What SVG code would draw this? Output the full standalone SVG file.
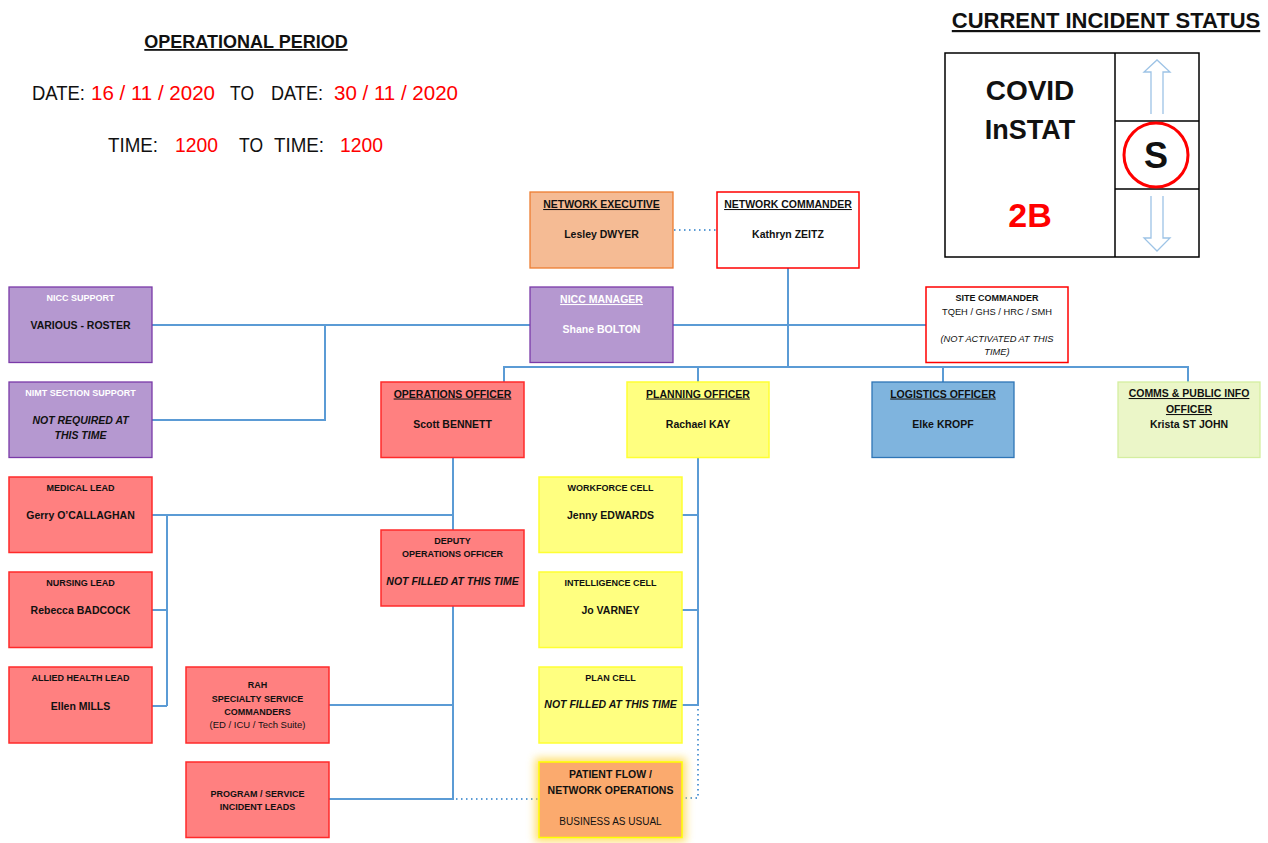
<svg xmlns="http://www.w3.org/2000/svg" width="1268" height="843" viewBox="0 0 1268 843">
<defs>
<style>
text{font-family:"Liberation Sans",Arial,sans-serif;fill:#111}
.c{text-anchor:middle}
.b{font-weight:bold}
.i{font-style:italic}
.u{text-decoration:underline}
.w{fill:#fff}
.red{fill:#ff0000}
.ttl{font-size:10.5px;font-weight:bold;text-decoration:underline}
.sm{font-size:9px;font-weight:bold}
.nm{font-size:10.5px;font-weight:bold}
.rbox{fill:#ff8080;stroke:#ff2a2a;stroke-width:1.5}
.ybox{fill:#ffff80;stroke:#ffff33;stroke-width:1.5}
.pbox{fill:#b598d0;stroke:#7a3aa8;stroke-width:1.3}
.wbox{fill:#fff;stroke:#ff0000;stroke-width:1.5}
.ln{fill:none;stroke:#5b9bd5;stroke-width:2}
.dl{fill:none;stroke:#5b9bd5;stroke-width:2;stroke-dasharray:1.5 3.5}
.arr{fill:#fff;stroke:#9dc3e6;stroke-width:1.3}
</style>
<filter id="glow" x="-20%" y="-20%" width="140%" height="140%"><feGaussianBlur stdDeviation="4"/></filter>
</defs>
<rect width="1268" height="843" fill="#fff"/>

<g id="header">
<text x="246" y="48" class="c b u" font-size="18">OPERATIONAL PERIOD</text>
<text x="32" y="100" font-size="20" textLength="53" lengthAdjust="spacingAndGlyphs">DATE:</text>
<text x="91" y="100" font-size="20" class="red" textLength="124" lengthAdjust="spacingAndGlyphs">16 / 11 / 2020</text>
<text x="230" y="100" font-size="20" textLength="24" lengthAdjust="spacingAndGlyphs">TO</text>
<text x="271" y="100" font-size="20" textLength="52" lengthAdjust="spacingAndGlyphs">DATE:</text>
<text x="334" y="100" font-size="20" class="red" textLength="124" lengthAdjust="spacingAndGlyphs">30 / 11 / 2020</text>
<text x="108" y="152" font-size="20" textLength="50" lengthAdjust="spacingAndGlyphs">TIME:</text>
<text x="175" y="152" font-size="20" class="red" textLength="43" lengthAdjust="spacingAndGlyphs">1200</text>
<text x="239" y="152" font-size="20" textLength="24" lengthAdjust="spacingAndGlyphs">TO</text>
<text x="274" y="152" font-size="20" textLength="50" lengthAdjust="spacingAndGlyphs">TIME:</text>
<text x="340" y="152" font-size="20" class="red" textLength="43" lengthAdjust="spacingAndGlyphs">1200</text>
</g>

<g id="status">
<text x="1106" y="28" class="c b u" font-size="22">CURRENT INCIDENT STATUS</text>
<rect x="945" y="53" width="254" height="204" fill="#fff" stroke="#000" stroke-width="1.5"/>
<line x1="1115" y1="53" x2="1115" y2="257" stroke="#000" stroke-width="1.5"/>
<line x1="1115" y1="121" x2="1199" y2="121" stroke="#000" stroke-width="1.5"/>
<line x1="1115" y1="189" x2="1199" y2="189" stroke="#000" stroke-width="1.5"/>
<text x="1030" y="100" class="c b" font-size="28">COVID</text>
<text x="1030" y="139" class="c b" font-size="27">InSTAT</text>
<text x="1030" y="227" class="c b red" font-size="34">2B</text>
<path class="arr" d="M1151,114 V72 H1144 L1157,60 L1170,72 H1163 V114"/>
<path class="arr" d="M1151,196 V238 H1144 L1157,251 L1170,238 H1163 V196"/>
<circle cx="1156" cy="155" r="32" fill="#fff" stroke="#ff0000" stroke-width="3"/>
<text x="1156" y="168" class="c b" font-size="36">S</text>
</g>

<g id="connectors">
<line class="dl" x1="674" y1="230" x2="716" y2="230"/>
<line class="ln" x1="788" y1="268" x2="788" y2="367"/>
<line class="ln" x1="152" y1="325" x2="530" y2="325"/>
<line class="ln" x1="673" y1="325" x2="926" y2="325"/>
<polyline class="ln" points="325,325 325,420 152,420"/>
<line class="ln" x1="503" y1="367" x2="1189" y2="367"/>
<line class="ln" x1="504" y1="366" x2="504" y2="382"/>
<line class="ln" x1="698" y1="366" x2="698" y2="382"/>
<line class="ln" x1="943" y1="366" x2="943" y2="382"/>
<line class="ln" x1="1188" y1="366" x2="1188" y2="382"/>
<line class="ln" x1="453" y1="457" x2="453" y2="800"/>
<line class="ln" x1="152" y1="515" x2="453" y2="515"/>
<line class="ln" x1="167" y1="515" x2="167" y2="706"/>
<line class="ln" x1="152" y1="610" x2="167" y2="610"/>
<line class="ln" x1="152" y1="706" x2="167" y2="706"/>
<line class="ln" x1="329" y1="705" x2="453" y2="705"/>
<line class="ln" x1="329" y1="799" x2="453" y2="799"/>
<line class="dl" x1="456" y1="799" x2="539" y2="799"/>
<line class="ln" x1="698" y1="457" x2="698" y2="706"/>
<line class="ln" x1="682" y1="515" x2="698" y2="515"/>
<line class="ln" x1="682" y1="610" x2="698" y2="610"/>
<line class="ln" x1="682" y1="705" x2="698" y2="705"/>
<polyline class="dl" points="698,709 698,798 684,798"/>
</g>

<g id="network-executive">
<rect x="530" y="192" width="143" height="76" fill="#f5bb94" stroke="#ed7d31" stroke-width="1.3"/>
<text x="601.5" y="208" class="c ttl">NETWORK EXECUTIVE</text>
<text x="601.5" y="238" class="c nm">Lesley DWYER</text>
</g>

<g id="network-commander">
<rect x="717" y="192" width="142" height="76" class="wbox"/>
<text x="788" y="208" class="c ttl">NETWORK COMMANDER</text>
<text x="788" y="238" class="c nm">Kathryn ZEITZ</text>
</g>

<g id="nicc-support">
<rect x="9" y="287" width="143" height="75.5" class="pbox"/>
<text x="80.5" y="301" class="c sm w">NICC SUPPORT</text>
<text x="80.5" y="328.5" class="c nm">VARIOUS - ROSTER</text>
</g>

<g id="nimt-support">
<rect x="9" y="382" width="143" height="75.5" class="pbox"/>
<text x="80.5" y="396" class="c sm w">NIMT SECTION SUPPORT</text>
<text x="80.5" y="423.5" class="c nm i">NOT REQUIRED AT</text>
<text x="80.5" y="438.5" class="c nm i">THIS TIME</text>
</g>

<g id="nicc-manager">
<rect x="530" y="287" width="143" height="75.5" class="pbox"/>
<text x="601.5" y="303" class="c ttl w">NICC MANAGER</text>
<text x="601.5" y="333" class="c nm w">Shane BOLTON</text>
</g>

<g id="site-commander">
<rect x="926" y="287" width="142" height="75.5" class="wbox"/>
<text x="997" y="301" class="c sm">SITE COMMANDER</text>
<text x="997" y="315" class="c" font-size="9.3">TQEH / GHS / HRC / SMH</text>
<text x="997" y="341.5" class="c i" font-size="9.3">(NOT ACTIVATED AT THIS</text>
<text x="997" y="354.5" class="c i" font-size="9.3">TIME)</text>
</g>

<g id="operations-officer">
<rect x="381" y="382" width="143" height="75.5" class="rbox"/>
<text x="452.5" y="397.5" class="c ttl">OPERATIONS OFFICER</text>
<text x="452.5" y="427.5" class="c nm">Scott BENNETT</text>
</g>

<g id="planning-officer">
<rect x="627" y="382" width="142" height="75.5" class="ybox"/>
<text x="698" y="397.5" class="c ttl">PLANNING OFFICER</text>
<text x="698" y="427.5" class="c nm">Rachael KAY</text>
</g>

<g id="logistics-officer">
<rect x="872" y="382" width="142" height="75.5" fill="#7fb4de" stroke="#2e75b6" stroke-width="1.3"/>
<text x="943" y="397.5" class="c ttl">LOGISTICS OFFICER</text>
<text x="943" y="427.5" class="c nm">Elke KROPF</text>
</g>

<g id="comms-officer">
<rect x="1118" y="382" width="142" height="75.5" fill="#ebf6c8" stroke="#d4eea0" stroke-width="1.3"/>
<text x="1189" y="397" class="c ttl">COMMS &amp; PUBLIC INFO</text>
<text x="1189" y="413" class="c ttl">OFFICER</text>
<text x="1189" y="427.5" class="c nm">Krista ST JOHN</text>
</g>

<g id="medical-lead">
<rect x="9" y="477" width="143" height="75.5" class="rbox"/>
<text x="80.5" y="491" class="c sm">MEDICAL LEAD</text>
<text x="80.5" y="519" class="c nm">Gerry O’CALLAGHAN</text>
</g>

<g id="nursing-lead">
<rect x="9" y="572" width="143" height="75.5" class="rbox"/>
<text x="80.5" y="586" class="c sm">NURSING LEAD</text>
<text x="80.5" y="614" class="c nm">Rebecca BADCOCK</text>
</g>

<g id="allied-health-lead">
<rect x="9" y="667" width="143" height="76" class="rbox"/>
<text x="80.5" y="681" class="c sm">ALLIED HEALTH LEAD</text>
<text x="80.5" y="709.5" class="c nm">Ellen MILLS</text>
</g>

<g id="deputy-operations-officer">
<rect x="381" y="530" width="143" height="76" class="rbox"/>
<text x="452.5" y="544" class="c sm">DEPUTY</text>
<text x="452.5" y="557" class="c sm">OPERATIONS OFFICER</text>
<text x="452.5" y="584.5" class="c nm i">NOT FILLED AT THIS TIME</text>
</g>

<g id="workforce-cell">
<rect x="539" y="477" width="143" height="75.5" class="ybox"/>
<text x="610.5" y="491" class="c sm">WORKFORCE CELL</text>
<text x="610.5" y="519" class="c nm">Jenny EDWARDS</text>
</g>

<g id="intelligence-cell">
<rect x="539" y="572" width="143" height="75.5" class="ybox"/>
<text x="610.5" y="586" class="c sm">INTELLIGENCE CELL</text>
<text x="610.5" y="614" class="c nm">Jo VARNEY</text>
</g>

<g id="plan-cell">
<rect x="539" y="667" width="143" height="76" class="ybox"/>
<text x="610.5" y="681" class="c sm">PLAN CELL</text>
<text x="610.5" y="708" class="c nm i">NOT FILLED AT THIS TIME</text>
</g>

<g id="rah-specialty">
<rect x="186" y="667" width="143" height="76" class="rbox"/>
<text x="257.5" y="688" class="c sm">RAH</text>
<text x="257.5" y="702" class="c sm">SPECIALTY SERVICE</text>
<text x="257.5" y="714.5" class="c sm">COMMANDERS</text>
<text x="257.5" y="728" class="c" font-size="9.5">(ED / ICU / Tech Suite)</text>
</g>

<g id="program-service">
<rect x="186" y="762" width="143" height="75.5" class="rbox"/>
<text x="257.5" y="797" class="c sm">PROGRAM / SERVICE</text>
<text x="257.5" y="810" class="c sm">INCIDENT LEADS</text>
</g>

<g id="patient-flow">
<rect x="535" y="758" width="151" height="84" fill="#ffd84a" opacity="0.8" filter="url(#glow)"/>
<rect x="539" y="762" width="143" height="75.5" fill="#fbaa6e" stroke="#ffff00" stroke-width="1.5"/>
<text x="610.5" y="778" class="c nm">PATIENT FLOW /</text>
<text x="610.5" y="793.5" class="c nm">NETWORK OPERATIONS</text>
<text x="610.5" y="825" class="c" font-size="10">BUSINESS AS USUAL</text>
</g>
</svg>
